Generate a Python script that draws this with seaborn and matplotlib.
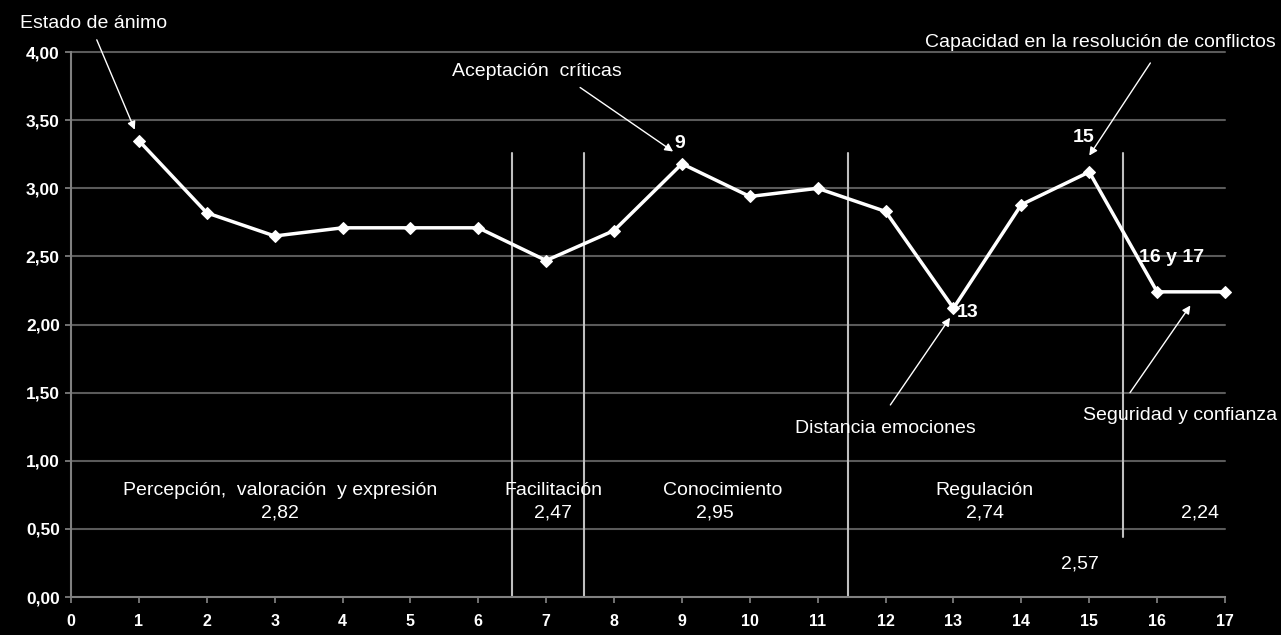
import matplotlib
matplotlib.use("Agg")
import matplotlib.pyplot as plt
import seaborn as sns
import pandas as pd

items = list(range(1, 18))
scores = [3.35, 2.82, 2.65, 2.71, 2.71, 2.71, 2.47, 2.69, 3.18, 2.94, 3.00, 2.83, 2.12, 2.88, 3.12, 2.24, 2.24]
x_ticks = list(range(0, 18))
y_ticks = [0.0, 0.5, 1.0, 1.5, 2.0, 2.5, 3.0, 3.5, 4.0]
section_names = ["Percepción,  valoración  y expresión", "Facilitación", "Conocimiento", "Regulación", ""]
section_means = ["2,82", "2,47", "2,95", "2,74", "2,24"]
dividers = [6.5, 7.55, 11.45, 15.5]

sns.set_theme(style="dark")
plt.rcParams['font.family'] = ['Liberation Sans', 'DejaVu Sans']

df = pd.DataFrame({"item": items, "score": scores})

fig = plt.figure(figsize=(12.81, 6.35), dpi=100, facecolor="black")
ax = fig.add_axes([0.0554, 0.0598, 0.9009, 0.8582])
ax.set_facecolor("black")

for y in y_ticks[1:]:
    ax.axhline(y, color="#5a5a5a", lw=1.5, zorder=0)

# dividers
for d in dividers[:3]:
    ax.plot([d, d], [0, 3.26], color="#bfbfbf", lw=1.5, zorder=1)
ax.plot([dividers[3], dividers[3]], [0.44, 3.26], color="#bfbfbf", lw=1.5, zorder=1)

sns.lineplot(data=df, x="item", y="score", ax=ax, color="white", lw=2.5,
             marker="D", markersize=6, markeredgecolor="white", zorder=3)
for ln in ax.lines:
    ln.set_clip_on(False)

ax.set_xlim(0, 17)
ax.set_ylim(0, 4)
ax.set_xticks(x_ticks)
ax.set_xticklabels([str(t) for t in x_ticks], fontweight="bold", color="white", fontsize=11.5)
ax.set_yticks(y_ticks)
ax.set_yticklabels([f"{t:.2f}".replace(".", ",") for t in y_ticks], fontweight="bold", color="white", fontsize=12.5)
ax.set_xlabel("")
ax.set_ylabel("")
ax.tick_params(axis="x", length=4, color="#808080", pad=8, direction="out", bottom=True)
ax.tick_params(axis="y", length=4, color="#808080", pad=4, left=True)
for s in ["top", "right"]:
    ax.spines[s].set_visible(False)
ax.spines["left"].set_color("#808080")
ax.spines["bottom"].set_color("#808080")
ax.spines["left"].set_linewidth(1.5)
ax.spines["bottom"].set_linewidth(1.5)
ax.grid(False)

fs = 14
tc = "white"
akw = dict(arrowstyle="-|>", color="white", lw=1.0, mutation_scale=12, shrinkA=0, shrinkB=0)

ax.text(-0.75, 4.21, "Estado de ánimo", color=tc, fontsize=fs, ha="left", va="center", clip_on=False)
ax.annotate("", xy=(0.94, 3.43), xytext=(0.38, 4.09), annotation_clip=False, arrowprops=akw)

ax.text(6.87, 3.86, "Aceptación  críticas", color=tc, fontsize=fs, ha="center", va="center")
ax.annotate("", xy=(8.87, 3.27), xytext=(7.50, 3.74), arrowprops=akw)
ax.text(8.97, 3.33, "9", color=tc, fontsize=fs, fontweight="bold", ha="center", va="center")

ax.text(17.74, 4.07, "Capacidad en la resolución de conflictos", color=tc, fontsize=fs,
        ha="right", va="center", clip_on=False)
ax.annotate("", xy=(15.0, 3.24), xytext=(15.90, 3.92), arrowprops=akw)
ax.text(14.91, 3.37, "15", color=tc, fontsize=fs, fontweight="bold", ha="center", va="center")

ax.text(16.21, 2.49, "16 y 17", color=tc, fontsize=fs, fontweight="bold", ha="center", va="center")
ax.text(13.21, 2.09, "13", color=tc, fontsize=fs, fontweight="bold", ha="center", va="center")

ax.text(11.99, 1.24, "Distancia emociones", color=tc, fontsize=fs, ha="center", va="center")
ax.annotate("", xy=(12.95, 2.05), xytext=(12.07, 1.41), arrowprops=akw)

ax.text(17.77, 1.33, "Seguridad y confianza", color=tc, fontsize=fs, ha="right", va="center", clip_on=False)
ax.annotate("", xy=(16.49, 2.14), xytext=(15.60, 1.50), arrowprops=akw)

name_x = [3.08, 7.10, 9.6, 13.46, 16.63]
mean_x = [3.08, 7.10, 9.49, 13.46, 16.63]
for nm, mn, nx, mx in zip(section_names, section_means, name_x, mean_x):
    if nm:
        ax.text(nx, 0.785, nm, color=tc, fontsize=fs, ha="center", va="center")
    ax.text(mx, 0.62, mn, color=tc, fontsize=fs, ha="center", va="center")
ax.text(14.86, 0.24, "2,57", color=tc, fontsize=fs, ha="center", va="center")

fig.savefig("out.png", dpi=100, facecolor="black")
